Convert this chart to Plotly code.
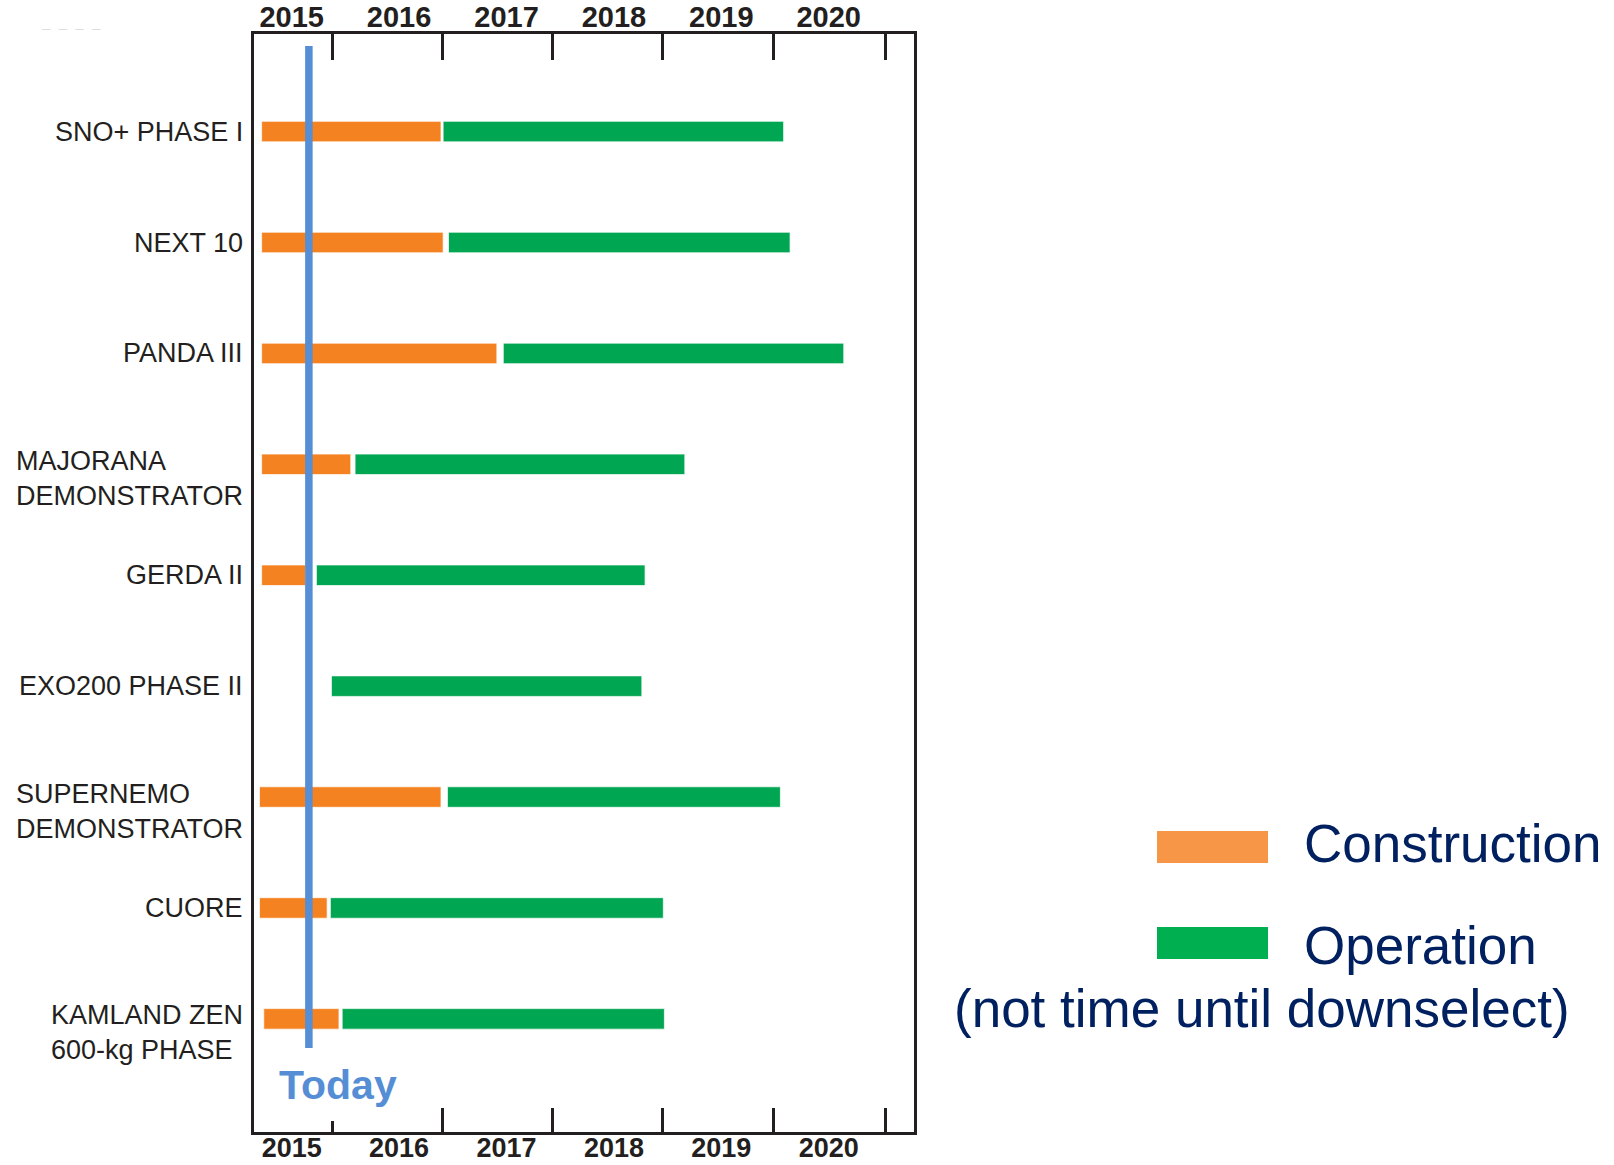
import plotly.graph_objects as go

# ---------------- data ----------------
experiments = [
    "SNO+ PHASE I",
    "NEXT 10",
    "PANDA III",
    "MAJORANA<br>DEMONSTRATOR",
    "GERDA II",
    "EXO200 PHASE II",
    "SUPERNEMO<br>DEMONSTRATOR",
    "CUORE",
    "KAMLAND ZEN<br>600-kg PHASE",
]
construction_start = [2014.72, 2014.72, 2014.72, 2014.72, 2014.72, None, 2014.70, 2014.70, 2014.74]
construction_end = [2016.39, 2016.41, 2016.91, 2015.55, 2015.13, None, 2016.39, 2015.33, 2015.44]
operation_start = [2016.41, 2016.46, 2016.97, 2015.59, 2015.23, 2015.37, 2016.45, 2015.36, 2015.47]
operation_end = [2019.58, 2019.64, 2020.14, 2018.66, 2018.29, 2018.26, 2019.55, 2018.46, 2018.47]

year_labels = [2015, 2016, 2017, 2018, 2019, 2020]
tick_years = [2015.38, 2016.405, 2017.43, 2018.456, 2019.49, 2020.526]
today = 2015.16
x_range = [2014.649, 2020.794]

# ---------------- styling ----------------
W, H = 1614, 1165
L, R, T, B = 254, 914, 34, 1132  # plot frame in page pixels
ORANGE = "#F58220"
GREEN = "#00A651"
ORANGE_LEG = "#F79646"
GREEN_LEG = "#00B050"
BLUE = "#558ED5"
NAVY = "#002060"
DARK = "#231F20"
SANS = "Liberation Sans, Arial, sans-serif"
NARROW = "Liberation Sans Narrow, Arial Narrow, Liberation Sans, Arial, sans-serif"


def px_x(f):
    return (f - L) / (R - L)


def px_y(f):
    return (B - f) / (B - T)


c_len = [None if s is None else e - s for s, e in zip(construction_start, construction_end)]
o_len = [e - s for s, e in zip(operation_start, operation_end)]

fig = go.Figure()
fig.add_trace(go.Bar(
    name="Construction", y=experiments, x=c_len, base=construction_start,
    orientation="h", width=0.185,
    marker=dict(color=ORANGE, line=dict(color="rgba(255,255,255,0.7)", width=1)),
    hoverinfo="skip",
))
fig.add_trace(go.Bar(
    name="Operation", y=experiments, x=o_len, base=operation_start,
    orientation="h", width=0.185,
    marker=dict(color=GREEN, line=dict(color="rgba(255,255,255,0.7)", width=1)),
    hoverinfo="skip",
))
# dummy traces to register overlay axes
for ax in ["x2", "x3", "x4"]:
    fig.add_trace(go.Scatter(x=[None], y=[experiments[0]], xaxis=ax, mode="markers",
                             showlegend=False, hoverinfo="skip"))

tickfont_top = dict(family=NARROW, size=29, color=DARK, weight="bold")
tickfont_bot = dict(family=NARROW, size=27, color=DARK, weight="bold")
common = dict(range=x_range, showgrid=False, zeroline=False, automargin=False)
fig.update_layout(
    width=W, height=H,
    margin=dict(l=L, r=W - R, t=T, b=H - B, autoexpand=False),
    plot_bgcolor="white", paper_bgcolor="white",
    showlegend=False, barmode="overlay",
    xaxis=dict(tickvals=year_labels, ticktext=[str(y) for y in year_labels],
               side="bottom", ticks="", showline=True, linewidth=3, linecolor=DARK,
               mirror=True, tickfont=tickfont_bot, ticklabelstandoff=-10, **common),
    xaxis2=dict(overlaying="x", side="top", tickvals=year_labels,
                ticktext=[str(y) for y in year_labels], ticks="", showline=False,
                tickfont=tickfont_top, **common),
    xaxis3=dict(overlaying="x", side="top", tickvals=tick_years,
                ticks="inside", ticklen=26, tickwidth=3, tickcolor=DARK,
                showticklabels=False, showline=False, **common),
    xaxis4=dict(overlaying="x", side="bottom", tickvals=tick_years[1:],
                ticks="inside", ticklen=24, tickwidth=3, tickcolor=DARK,
                minor=dict(tickmode="array", tickvals=tick_years[:1], ticks="inside",
                           ticklen=11, tickwidth=3, tickcolor=DARK),
                showticklabels=False, showline=False, **common),
    yaxis=dict(type="category", categoryorder="array", categoryarray=experiments,
               range=[9.02, -0.88], showline=True, linewidth=3, linecolor=DARK,
               mirror=True, ticks="", showticklabels=False, showgrid=False,
               zeroline=False, automargin=False),
)

# Today line
fig.add_shape(type="line", xref="x", yref="paper", x0=today, x1=today,
              y0=px_y(1048), y1=px_y(46), line=dict(color=BLUE, width=7.5), layer="above")
fig.add_annotation(text="<b>Today</b>", xref="paper", yref="paper", x=px_x(277), y=px_y(1085),
                   xanchor="left", yanchor="middle", showarrow=False,
                   font=dict(family=SANS, size=41, color=BLUE))

# category labels
for name in experiments:
    n = name.count("<br>") + 1
    fig.add_annotation(text=name, xref="paper", yref="y", x=px_x(245), y=name,
                       xanchor="right", yanchor="middle", align="left", showarrow=False,
                       yshift=-(n - 1) * 14,
                       font=dict(family=SANS, size=27, color=DARK))

# legend
fig.add_shape(type="rect", xref="paper", yref="paper", x0=px_x(1157), x1=px_x(1268),
              y0=px_y(863), y1=px_y(831), fillcolor=ORANGE_LEG, line=dict(width=0))
fig.add_shape(type="rect", xref="paper", yref="paper", x0=px_x(1157), x1=px_x(1268),
              y0=px_y(959), y1=px_y(927), fillcolor=GREEN_LEG, line=dict(width=0))
fig.add_annotation(text="Construction", xref="paper", yref="paper", x=px_x(1302), y=px_y(843),
                   xanchor="left", yanchor="middle", showarrow=False,
                   font=dict(family=SANS, size=53, color=NAVY))
fig.add_annotation(text="Operation", xref="paper", yref="paper", x=px_x(1302), y=px_y(945),
                   xanchor="left", yanchor="middle", showarrow=False,
                   font=dict(family=SANS, size=53, color=NAVY))
fig.add_annotation(text="(not time until downselect)", xref="paper", yref="paper",
                   x=px_x(1262), y=px_y(1008), xanchor="center", yanchor="middle",
                   showarrow=False, font=dict(family=SANS, size=53, color=NAVY))

# faint artifact top-left
fig.add_annotation(text="–  –  –  –", xref="paper", yref="paper", x=px_x(71), y=px_y(27),
                   xanchor="center", yanchor="middle", showarrow=False,
                   font=dict(family=SANS, size=15, color="#DDDDDD"))

fig.write_html("out.html", config={"displayModeBar": False},
               post_script="document.body.style.margin='0';document.body.style.overflow='hidden';")
